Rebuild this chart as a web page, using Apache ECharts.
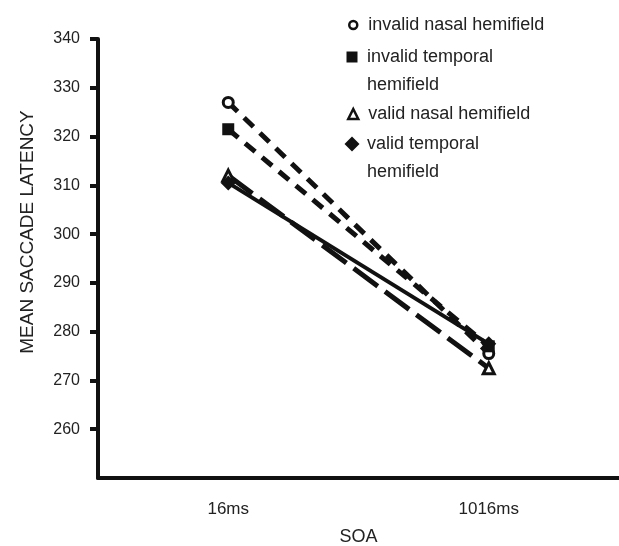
<!DOCTYPE html>
<html><head><meta charset="utf-8">
<script src="https://cdn.jsdelivr.net/npm/echarts@6/dist/echarts.min.js"></script>
<style>html,body{margin:0;padding:0;background:#fff}#c{width:619px;height:546px}</style>
</head><body><div id="c"></div>
<script>
// ---- data ----
const soaLabels = ['16ms', '1016ms'];
const yTickValues = [260, 270, 280, 290, 300, 310, 320, 330, 340];
const seriesNames = ['invalid nasal hemifield', 'invalid temporal hemifield', 'valid nasal hemifield', 'valid temporal hemifield'];
const legendLines = [['invalid nasal hemifield'], ['invalid temporal', 'hemifield'], ['valid nasal hemifield'], ['valid temporal', 'hemifield']];
const invalidNasal = [327, 275.5];
const invalidTemporal = [321.5, 277];
const validNasal = [312, 272.5];
const validTemporal = [310.5, 277.5];

const FONT = 'Liberation Sans';
const TXT = '#222';
const INK = '#111';

const markers = [
  { symbol: 'circle', size: 10, style: { color: '#fff', borderColor: INK, borderWidth: 3 }, legendSize: 8, legendBorder: 2.5 },
  { symbol: 'rect', size: 12, style: { color: INK, borderWidth: 0 }, legendSize: 11, legendBorder: 0 },
  { symbol: 'triangle', size: 11, style: { color: '#fff', borderColor: INK, borderWidth: 3 }, legendSize: 10, legendBorder: 2.5 },
  { symbol: 'diamond', size: 15, style: { color: INK, borderWidth: 0 }, legendSize: 15, legendBorder: 0 }
];
const lineStyles = [
  { color: INK, width: 5, type: [13, 9] },
  { color: INK, width: 5, type: [13, 9] },
  { color: INK, width: 5, type: [30, 9] },
  { color: INK, width: 4, type: 'solid' }
];
const values = [invalidNasal, invalidTemporal, validNasal, validTemporal];
const legendCenters = [24, 56, 113, 143];

const legends = seriesNames.map((name, i) => {
  const lines = legendLines[i];
  const two = lines.length > 1;
  const m = markers[i];
  const w = m.legendSize;
  const padL = 10 - w / 2;
  const baseRich = { fontSize: 18, fontFamily: FONT, color: TXT, lineHeight: 24 };
  return {
    data: [{ name: name, icon: m.symbol, itemStyle: Object.assign({}, m.style, { borderWidth: m.legendBorder }) }],
    orient: 'vertical',
    left: 352 - w / 2,
    top: two ? legendCenters[i] - 32 : legendCenters[i] - 8,
    padding: 0,
    itemWidth: w,
    itemHeight: w,
    formatter: () => two ? '{p|' + lines[0] + '}\n{q|' + lines[1] + '}' : '{s|' + lines[0] + '}',
    textStyle: {
      fontSize: 18, fontFamily: FONT, color: TXT,
      rich: {
        s: Object.assign({}, baseRich, { padding: [0, 0, 0, padL] }),
        p: Object.assign({}, baseRich, { padding: [24, 0, 0, padL] }),
        q: Object.assign({}, baseRich, { padding: [32, 0, 0, padL] })
      }
    }
  };
});

const chart = echarts.init(document.getElementById('c'), null, { renderer: 'canvas' });
chart.setOption({
  animation: false,
  backgroundColor: '#fff',
  legend: legends,
  grid: { left: 98, right: 0, top: 39, bottom: 68, outerBoundsMode: 'none' },
  xAxis: {
    type: 'category',
    data: soaLabels,
    boundaryGap: true,
    name: 'SOA',
    nameLocation: 'middle',
    nameGap: 50,
    nameTextStyle: { fontSize: 18, fontFamily: FONT, color: TXT },
    axisLine: { lineStyle: { color: INK, width: 4 } },
    axisTick: { alignWithLabel: true, length: 8, lineStyle: { color: INK, width: 4 } },
    axisLabel: { fontSize: 17, fontFamily: FONT, color: TXT, margin: 23 },
    splitLine: { show: false }
  },
  yAxis: {
    type: 'value',
    min: 250, max: 340, interval: 10,
    name: 'MEAN SACCADE LATENCY',
    nameLocation: 'middle',
    nameGap: 61,
    nameTextStyle: { fontSize: 19, fontFamily: FONT, color: TXT, padding: [0, 0, 0, 53] },
    axisLine: { show: true, lineStyle: { color: INK, width: 4 } },
    axisTick: { show: true, length: 8, customValues: yTickValues, lineStyle: { color: INK, width: 4 } },
    axisLabel: { fontSize: 16, fontFamily: FONT, color: TXT, margin: 18, customValues: yTickValues },
    splitLine: { show: false }
  },
  series: seriesNames.map((name, i) => ({
    name: name,
    type: 'line',
    data: values[i],
    symbol: markers[i].symbol,
    symbolSize: markers[i].size,
    showSymbol: true,
    itemStyle: markers[i].style,
    lineStyle: lineStyles[i],
    z: 2 + i
  }))
});
</script>
</body></html>
